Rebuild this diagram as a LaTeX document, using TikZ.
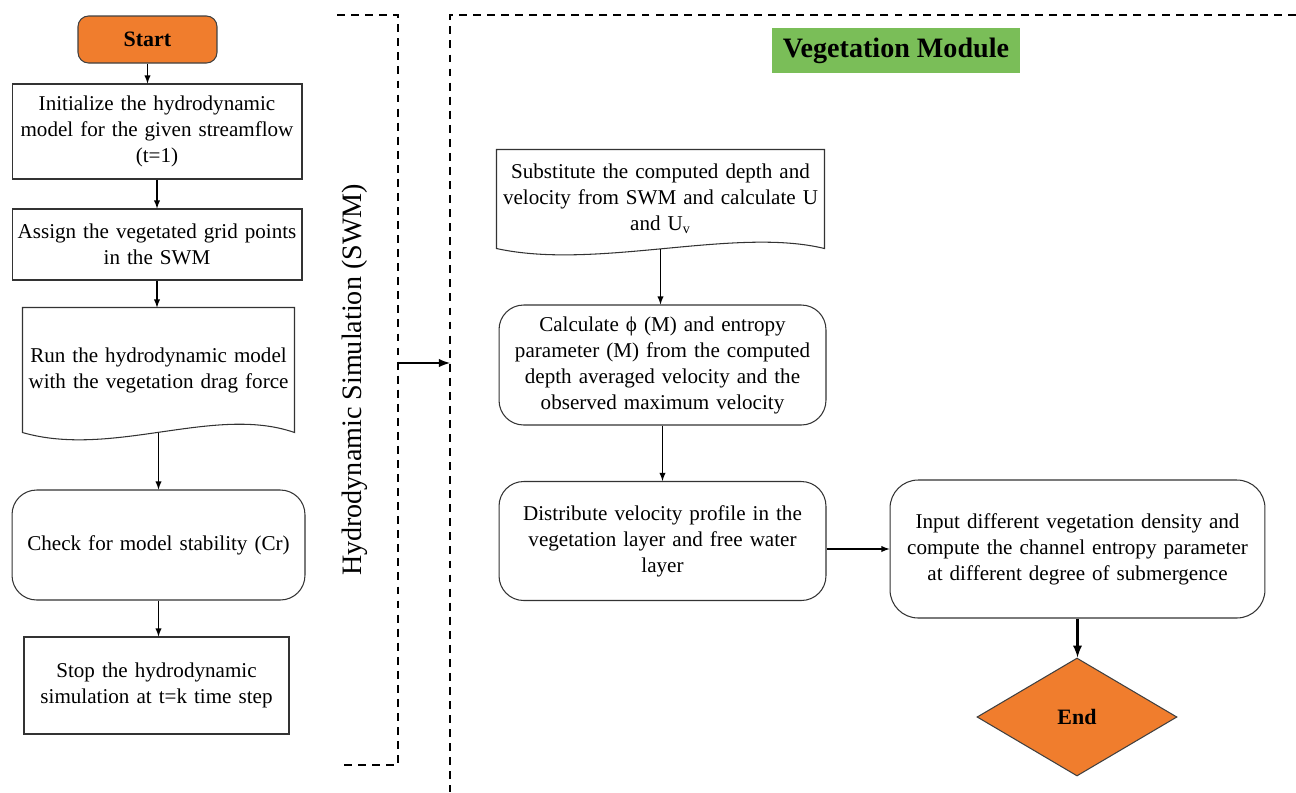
\documentclass[tikz,border=0pt]{standalone}
\usepackage{fontspec}
\setmainfont{Liberation Serif}
\usepackage{tikz}
\usetikzlibrary{positioning,calc,shapes.geometric}
\definecolor{startOrange}{RGB}{240,125,45}
\definecolor{moduleGreen}{RGB}{122,190,88}

\begin{document}
\begin{tikzpicture}
  [
    x=0.02cm, y=-0.02cm, >=latex,
    Box/.style={rectangle, draw=black!80, line width=0.6pt, align=center, inner sep=2pt, font=\fontsize{12}{14.8}\selectfont},
    Soft/.style={Box, rounded corners=14pt},
    Doc/.style={Box, draw=none},
    Term/.style={draw=black!75, line width=0.6pt, fill=startOrange, font=\fontsize{12.5}{14}\selectfont\bfseries},
    Frame/.style={dash pattern=on 4.5pt off 3.5pt, line width=1.1pt}
  ]
  \useasboundingbox (0,0) rectangle (1296,792);

  % Nodes
  \node[Term, rectangle, rounded corners=6pt, minimum width=2.78cm, minimum height=0.94cm] (h1) at (147.5,39.5) {Start};
  \node[Box, minimum width=5.8cm, minimum height=1.9cm, text width=5.6cm] (h2) at (157,131.5) {Initialize the hydrodynamic\\ model for the given streamflow\\ (t=1)};
  \node[Box, minimum width=5.8cm, minimum height=1.42cm, text width=5.6cm] (h3) at (157,244.5) {Assign the vegetated grid points\\ in the SWM};
  \node[Doc, minimum width=5.42cm, minimum height=2.48cm, text width=5.22cm] (h4) at (158.5,370) {Run the hydrodynamic model\\ with the vegetation drag force};
  \node[Soft, minimum width=5.86cm, minimum height=2.2cm, text width=5.66cm] (h5) at (158.5,545) {Check for model stability (Cr)};
  \node[Box, minimum width=5.3cm, minimum height=1.94cm, text width=5.1cm] (h6) at (156.5,685.5) {Stop the hydrodynamic\\ simulation at t=k time step};

  \node[rotate=90, font=\fontsize{16}{18}\selectfont] (hsim) at (355,380) {Hydrodynamic Simulation (SWM)};

  \node[fill=moduleGreen, minimum width=4.96cm, minimum height=0.9cm, font=\fontsize{16}{18}\selectfont\bfseries] (v0) at (896,50.5) {Vegetation Module};
  \node[Doc, minimum width=6.54cm, minimum height=1.96cm, text width=6.34cm] (v1) at (660.5,199) {Substitute the computed depth and\\ velocity from SWM and calculate U\\ and U\textsubscript{v}};
  \node[Soft, minimum width=6.54cm, minimum height=2.4cm, text width=6.34cm] (v2) at (662.5,365) {Calculate ϕ (M) and entropy\\ parameter (M) from the computed\\ depth averaged velocity and the\\ observed maximum velocity};
  \node[Soft, minimum width=6.54cm, minimum height=2.38cm, text width=6.34cm] (v3) at (662.5,541) {Distribute velocity profile in the\\ vegetation layer and free water\\ layer};
  \node[Soft, rounded corners=16pt, minimum width=7.5cm, minimum height=2.76cm, text width=7.3cm] (v4) at (1077.5,549) {Input different vegetation density and\\ compute the channel entropy parameter\\ at different degree of submergence};
  \node[Term, diamond, aspect=1.7, inner sep=0pt, minimum width=4cm, minimum height=2.36cm] (v5) at (1077,717) {End};

  \coordinate (c1) at (398,363);
  \coordinate (c2) at (450,363);

  % Document shapes
  \draw[line width=0.6pt, draw=black!80] (h4.south west) -- (h4.north west) -- (h4.north east) -- (h4.south east)
    .. controls ($(h4.south east)+(-80,-28)$) and ($(h4.south west)+(90,26)$) .. cycle;
  \draw[line width=0.6pt, draw=black!80] (v1.south west) -- (v1.north west) -- (v1.north east) -- (v1.south east)
    .. controls ($(v1.south east)+(-90,-22)$) and ($(v1.south west)+(100,22)$) .. cycle;

  % Frames
  \draw[Frame] (337,15) -- (398,15) -- (398,765) -- (343,765);
  \draw[Frame] (1296,15) -- (450,15) -- (450,792);

  % Lines
  \path [->, draw, semithick] (h1.south) -- (h1.south |- h2.north);
  \path [->, draw, semithick] (h2.south) -- (h3.north);
  \path [->, draw, semithick] (h3.south) -- (h3.south |- h4.north);
  \path [->, draw, semithick] (h4.south) -- (h4.south |- h5.north);
  \path [->, draw, semithick] (h5.south) -- (h5.south |- h6.north);
  \path [->, draw, line width=1.2pt] (c1) -- (c2);
  \path [->, draw, semithick] (v1.south) -- (v1.south |- v2.north);
  \path [->, draw, semithick] (v2.south) -- (v3.north);
  \path [->, draw, semithick] (v4.west -| v3.east) -- (v4.west);
  \path [->, draw, line width=1.3pt] (v4.south) -- (v4.south |- v5.north);

\end{tikzpicture}
\end{document}
